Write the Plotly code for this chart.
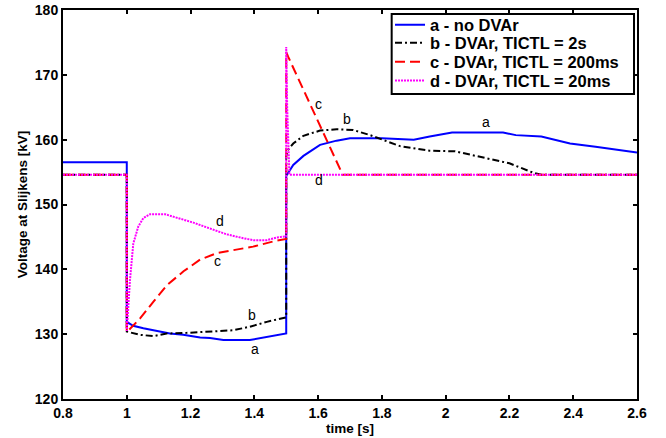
import plotly.graph_objects as go

# Time axis [s] and bus voltage [kV] for each simulated case
t_a = [0.8, 1.0, 1.0, 1.02, 1.052, 1.094, 1.135, 1.177, 1.23, 1.261, 1.303, 1.386, 1.428,
       1.47, 1.5, 1.5, 1.522, 1.554, 1.606, 1.658, 1.70, 1.80, 1.90, 1.95, 2.02, 2.18,
       2.22, 2.30, 2.39, 2.47, 2.54, 2.6]
v_a = [156.5, 156.5, 131.9, 131.3, 130.9, 130.5, 130.1, 129.9, 129.5, 129.4, 129.1, 129.1, 129.5,
       129.9, 130.1, 154.4, 156.1, 157.5, 159.2, 159.85, 160.2, 160.2, 160.0, 160.5, 161.1, 161.1,
       160.7, 160.5, 159.4, 158.9, 158.4, 158.0]

t_b = [0.8, 1.0, 1.0, 1.041, 1.083, 1.125, 1.188, 1.261, 1.334, 1.386, 1.439, 1.5, 1.5,
       1.505, 1.522, 1.554, 1.606, 1.658, 1.710, 1.763, 1.815, 1.857, 1.898, 1.95, 2.03,
       2.10, 2.20, 2.275, 2.30, 2.6]
v_b = [154.6, 154.6, 130.4, 129.9, 129.7, 130.1, 130.2, 130.4, 130.6, 131.15, 131.9, 132.6, 157.5,
       158.4, 159.4, 160.6, 161.4, 161.6, 161.5, 160.7, 159.7, 159.0, 158.7, 158.3, 158.2,
       157.4, 156.35, 154.9, 154.6, 154.6]

t_c = [0.8, 1.0, 1.0, 1.043, 1.085, 1.127, 1.178, 1.23, 1.282, 1.334, 1.396, 1.459, 1.5,
       1.5, 1.506, 1.677, 2.6]
v_c = [154.6, 154.6, 130.3, 132.5, 135.1, 137.6, 139.7, 141.5, 142.5, 143.0, 143.5, 144.3, 144.7,
       173.5, 172.8, 154.6, 154.6]

t_d = [0.8, 1.0, 1.0, 1.010, 1.0205, 1.036, 1.052, 1.073, 1.120, 1.157, 1.209, 1.261, 1.313,
       1.365, 1.397, 1.439, 1.470, 1.5, 1.5, 1.503, 1.507, 1.51, 2.6]
v_d = [154.6, 154.6, 130.5, 138.35, 144.0, 146.6, 147.9, 148.5, 148.5, 148.0, 147.2, 146.3, 145.4,
       144.8, 144.5, 144.5, 144.9, 145.1, 174.3, 165.0, 158.0, 154.6, 154.6]

series_names = ["a - no DVAr", "b - DVAr, TICTL = 2s",
                "c - DVAr, TICTL = 200ms", "d - DVAr, TICTL = 20ms"]

# Curve letters placed next to each trace
label_text = ["a", "b", "c", "d", "c", "b", "a", "d"]
label_t = [1.402, 1.392, 1.284, 1.292, 1.600, 1.692, 2.126, 1.604]
label_v = [127.4, 132.6, 141.0, 147.1, 165.2, 162.9, 162.4, 153.4]

FONT = "Liberation Sans, Arial, sans-serif"

fig = go.Figure()
styles = [
    dict(color="#0000ff", width=2, dash="solid"),
    dict(color="#000000", width=2, dash="7px,3px,2px,3px"),
    dict(color="#ff0000", width=2, dash="10px,5px"),
    dict(color="#ff00ff", width=2, dash="2px,1px"),
]
legend_ids = ["legend", "legend2", "legend3", "legend4"]
for t, v, name, ln, lg in zip([t_a, t_b, t_c, t_d], [v_a, v_b, v_c, v_d],
                              series_names, styles, legend_ids):
    fig.add_trace(go.Scatter(x=t, y=v, mode="lines", name=name, line=ln, legend=lg))

for txt, tx, vy in zip(label_text, label_t, label_v):
    fig.add_annotation(x=tx, y=vy, text=txt, showarrow=False, yshift=2,
                       font=dict(family=FONT, size=14, color="black"))

# Legend frame (white box with black border over the curves)
fig.add_shape(type="rect", xref="paper", yref="paper",
              x0=0.5726, x1=0.9948, y0=0.784, y1=0.9897,
              line=dict(color="black", width=2), fillcolor="white", layer="above")

axis_common = dict(
    showline=True, linecolor="black", linewidth=2, mirror="ticks",
    ticks="inside", ticklen=4, tickwidth=2, tickcolor="black",
    showgrid=False, zeroline=False, automargin=False,
    tickfont=dict(family=FONT, size=14, color="black", weight="bold"),
)

# One legend row per case, stacked tightly inside the frame
legend_rows_y = [0.9614, 0.9152, 0.8663, 0.8183]
legend_layout = {}
for lg, ly in zip(legend_ids, legend_rows_y):
    legend_layout[lg] = dict(
        x=0.5697, y=ly, xanchor="left", yanchor="middle",
        bgcolor="rgba(0,0,0,0)", borderwidth=0,
        font=dict(family=FONT, size=16.5, color="black", weight="bold"),
        itemwidth=30,
    )

fig.update_layout(
    width=666, height=438,
    margin=dict(l=63, r=29, t=10, b=39, autoexpand=False),
    paper_bgcolor="white", plot_bgcolor="white",
    xaxis=dict(range=[0.8, 2.6], dtick=0.2, tick0=0.8,
               title=dict(text="time [s]", standoff=4,
                          font=dict(family=FONT, size=13.5, color="black", weight="bold")),
               **axis_common),
    yaxis=dict(range=[120, 180], dtick=10,
               title=dict(text="Voltage at Slijkens [kV]", standoff=4,
                          font=dict(family=FONT, size=13.5, color="black", weight="bold")),
               **axis_common),
    showlegend=True,
    **legend_layout,
)

fig.write_html("out.html")
